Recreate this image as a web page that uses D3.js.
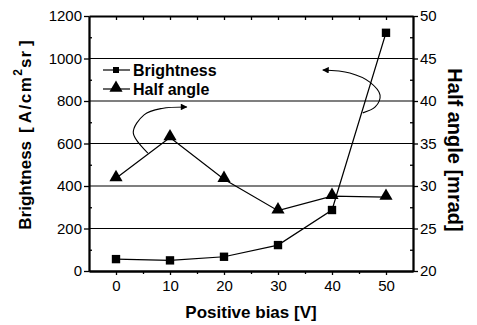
<!DOCTYPE html>
<html>
<head>
<meta charset="utf-8">
<script src="https://cdn.jsdelivr.net/npm/d3@7"></script>
<style>
  body { margin: 0; background: #fff; }
  svg { font-family: "Liberation Sans", Arial, sans-serif; }
</style>
</head>
<body>
<div id="chart"></div>
<script>
// data
var bias = [0, 10, 20, 30, 40, 50];
var brightness = [56, 50, 67, 122, 287, 1121];
var halfAngle = [30.9, 35.7, 30.8, 27.1, 28.8, 28.7];
var leftTicks = [0, 200, 400, 600, 800, 1000, 1200];
var rightTicks = [20, 25, 30, 35, 40, 45, 50];
var xTicks = [0, 10, 20, 30, 40, 50];
var gridValues = [200, 400, 600, 800, 1000];

// curved arrows (in data units of bias / brightness)
var arrowHalf = [[5.9, 555], [3.2, 650], [5.2, 735], [8.5, 765], [13.1, 772]];
var arrowBright = [[45.7, 744], [48, 772], [48.9, 828], [47, 889], [43.3, 932], [38.3, 946]];

var svgWidth = 477, svgHeight = 325;
var margin = { top: 16, right: 64, bottom: 54, left: 89 };
var chartWidth = svgWidth - margin.left - margin.right;
var chartHeight = svgHeight - margin.top - margin.bottom;

var svg = d3.select("#chart").append("svg")
  .attr("width", svgWidth)
  .attr("height", svgHeight);

var defs = svg.append("defs");
defs.append("marker")
  .attr("id", "head")
  .attr("viewBox", "0 0 10 10")
  .attr("refX", 9).attr("refY", 5)
  .attr("markerWidth", 7).attr("markerHeight", 6)
  .attr("orient", "auto")
  .append("path").attr("d", "M0,0 L10,5 L0,10 z").attr("fill", "#000");

var g = svg.append("g")
  .attr("transform", `translate(${margin.left}, ${margin.top})`);

var xScale = d3.scaleLinear().domain([-5, 55]).range([0, chartWidth]);
var yScale = d3.scaleLinear().domain([0, 1200]).range([chartHeight, 0]);
var y2Scale = d3.scaleLinear().domain([20, 50]).range([chartHeight, 0]);

// grid lines
g.selectAll(".grid")
  .data(gridValues)
  .enter().append("line")
  .attr("x1", 0).attr("x2", chartWidth)
  .attr("y1", d => yScale(d)).attr("y2", d => yScale(d))
  .attr("stroke", "#000").attr("stroke-width", 1.2);

function styleAxis(sel) {
  sel.selectAll("path").attr("stroke", "#000").attr("stroke-width", 1.8);
  sel.selectAll("line").attr("stroke", "#000").attr("stroke-width", 1.3);
  sel.selectAll("text").attr("font-size", 15).attr("fill", "#000");
}

// bottom axis
g.append("g")
  .attr("transform", `translate(0, ${chartHeight})`)
  .call(d3.axisBottom(xScale).tickValues(xTicks).tickSize(4).tickSizeOuter(0).tickPadding(5).tickFormat(d3.format("d")))
  .call(styleAxis);
g.append("g")
  .attr("transform", `translate(0, ${chartHeight})`)
  .call(d3.axisBottom(xScale).tickValues(d3.range(5, 50, 10)).tickSize(3).tickSizeOuter(0).tickFormat(""))
  .call(styleAxis);

// top axis, ticks inward
g.append("g")
  .call(d3.axisTop(xScale).tickValues(d3.range(0, 55, 5)).tickSize(-4).tickSizeOuter(0).tickFormat(""))
  .call(styleAxis);

// left axis
g.append("g")
  .call(d3.axisLeft(yScale).tickValues(leftTicks).tickSize(5).tickSizeOuter(0).tickPadding(2).tickFormat(d3.format("d")))
  .call(styleAxis);
g.append("g")
  .call(d3.axisLeft(yScale).tickValues(d3.range(100, 1200, 200)).tickSize(-3).tickSizeOuter(0).tickFormat(""))
  .call(styleAxis);

// right axis
g.append("g")
  .attr("transform", `translate(${chartWidth}, 0)`)
  .call(d3.axisRight(y2Scale).tickValues(rightTicks).tickSize(5).tickSizeOuter(0).tickPadding(2))
  .call(styleAxis);
g.append("g")
  .attr("transform", `translate(${chartWidth}, 0)`)
  .call(d3.axisRight(y2Scale).tickValues(d3.range(22.5, 50, 5)).tickSize(-3).tickSizeOuter(0).tickFormat(""))
  .call(styleAxis);

// brightness line + squares
var lineB = d3.line().x((d, i) => xScale(bias[i])).y(d => yScale(d));
g.append("path").datum(brightness)
  .attr("d", lineB).attr("fill", "none").attr("stroke", "#000").attr("stroke-width", 1.2);
g.selectAll(".sq")
  .data(brightness)
  .enter().append("path")
  .attr("transform", (d, i) => `translate(${xScale(bias[i])}, ${yScale(d)})`)
  .attr("d", d3.symbol(d3.symbolSquare, 70))
  .attr("fill", "#000");

// half angle line + triangles
var lineH = d3.line().x((d, i) => xScale(bias[i])).y(d => y2Scale(d));
g.append("path").datum(halfAngle)
  .attr("d", lineH).attr("fill", "none").attr("stroke", "#000").attr("stroke-width", 1.2);
g.selectAll(".tri")
  .data(halfAngle)
  .enter().append("path")
  .attr("transform", (d, i) => `translate(${xScale(bias[i])}, ${y2Scale(d) - 1})`)
  .attr("d", d3.symbol(d3.symbolTriangle, 75))
  .attr("fill", "#000");

// curved arrows
var curve = d3.line().x(d => xScale(d[0])).y(d => yScale(d[1])).curve(d3.curveCatmullRom);
[arrowHalf, arrowBright].forEach(function(pts) {
  g.append("path").datum(pts)
    .attr("d", curve)
    .attr("fill", "none").attr("stroke", "#000").attr("stroke-width", 1.1)
    .attr("marker-end", "url(#head)");
});

// legend
var legendNames = ["Brightness", "Half angle"];
var legend = svg.append("g").attr("transform", "translate(103, 70)");
legendNames.forEach(function(name, i) {
  var row = legend.append("g").attr("transform", `translate(0, ${i * 19})`);
  row.append("line").attr("x1", 0).attr("x2", 27).attr("y1", 0).attr("y2", 0)
    .attr("stroke", "#000").attr("stroke-width", 1.2);
  row.append("path").attr("transform", i === 0 ? "translate(13,0)" : "translate(13,-1)")
    .attr("d", d3.symbol(i === 0 ? d3.symbolSquare : d3.symbolTriangle, i === 0 ? 36 : 75))
    .attr("fill", "#000");
  row.append("text").attr("x", 30).attr("y", 5.5)
    .attr("font-size", 16).attr("font-weight", "bold")
    .text(name);
});

// axis titles
svg.append("text")
  .attr("x", margin.left + xScale(25)).attr("y", 318)
  .attr("text-anchor", "middle").attr("font-size", 17).attr("font-weight", "bold")
  .text("Positive bias [V]");

var lt = svg.append("text")
  .attr("transform", "translate(31, 135) rotate(-90)")
  .attr("text-anchor", "middle").attr("font-size", 17).attr("font-weight", "bold");
lt.append("tspan").text("Brightness");
lt.append("tspan").attr("dx", 8).text("[");
lt.append("tspan").attr("dx", 4).attr("letter-spacing", 1.5).text("A/cm");
lt.append("tspan").attr("font-size", 12).attr("dy", -9).text("2");
lt.append("tspan").attr("dy", 9).attr("dx", 1).attr("letter-spacing", 1).text("sr");
lt.append("tspan").attr("dx", 4).text("]");

svg.append("text")
  .attr("transform", "translate(448, 150) rotate(90)")
  .attr("text-anchor", "middle").attr("font-size", 20).attr("font-weight", "bold")
  .text("Half angle [mrad]");
</script>
</body>
</html>
